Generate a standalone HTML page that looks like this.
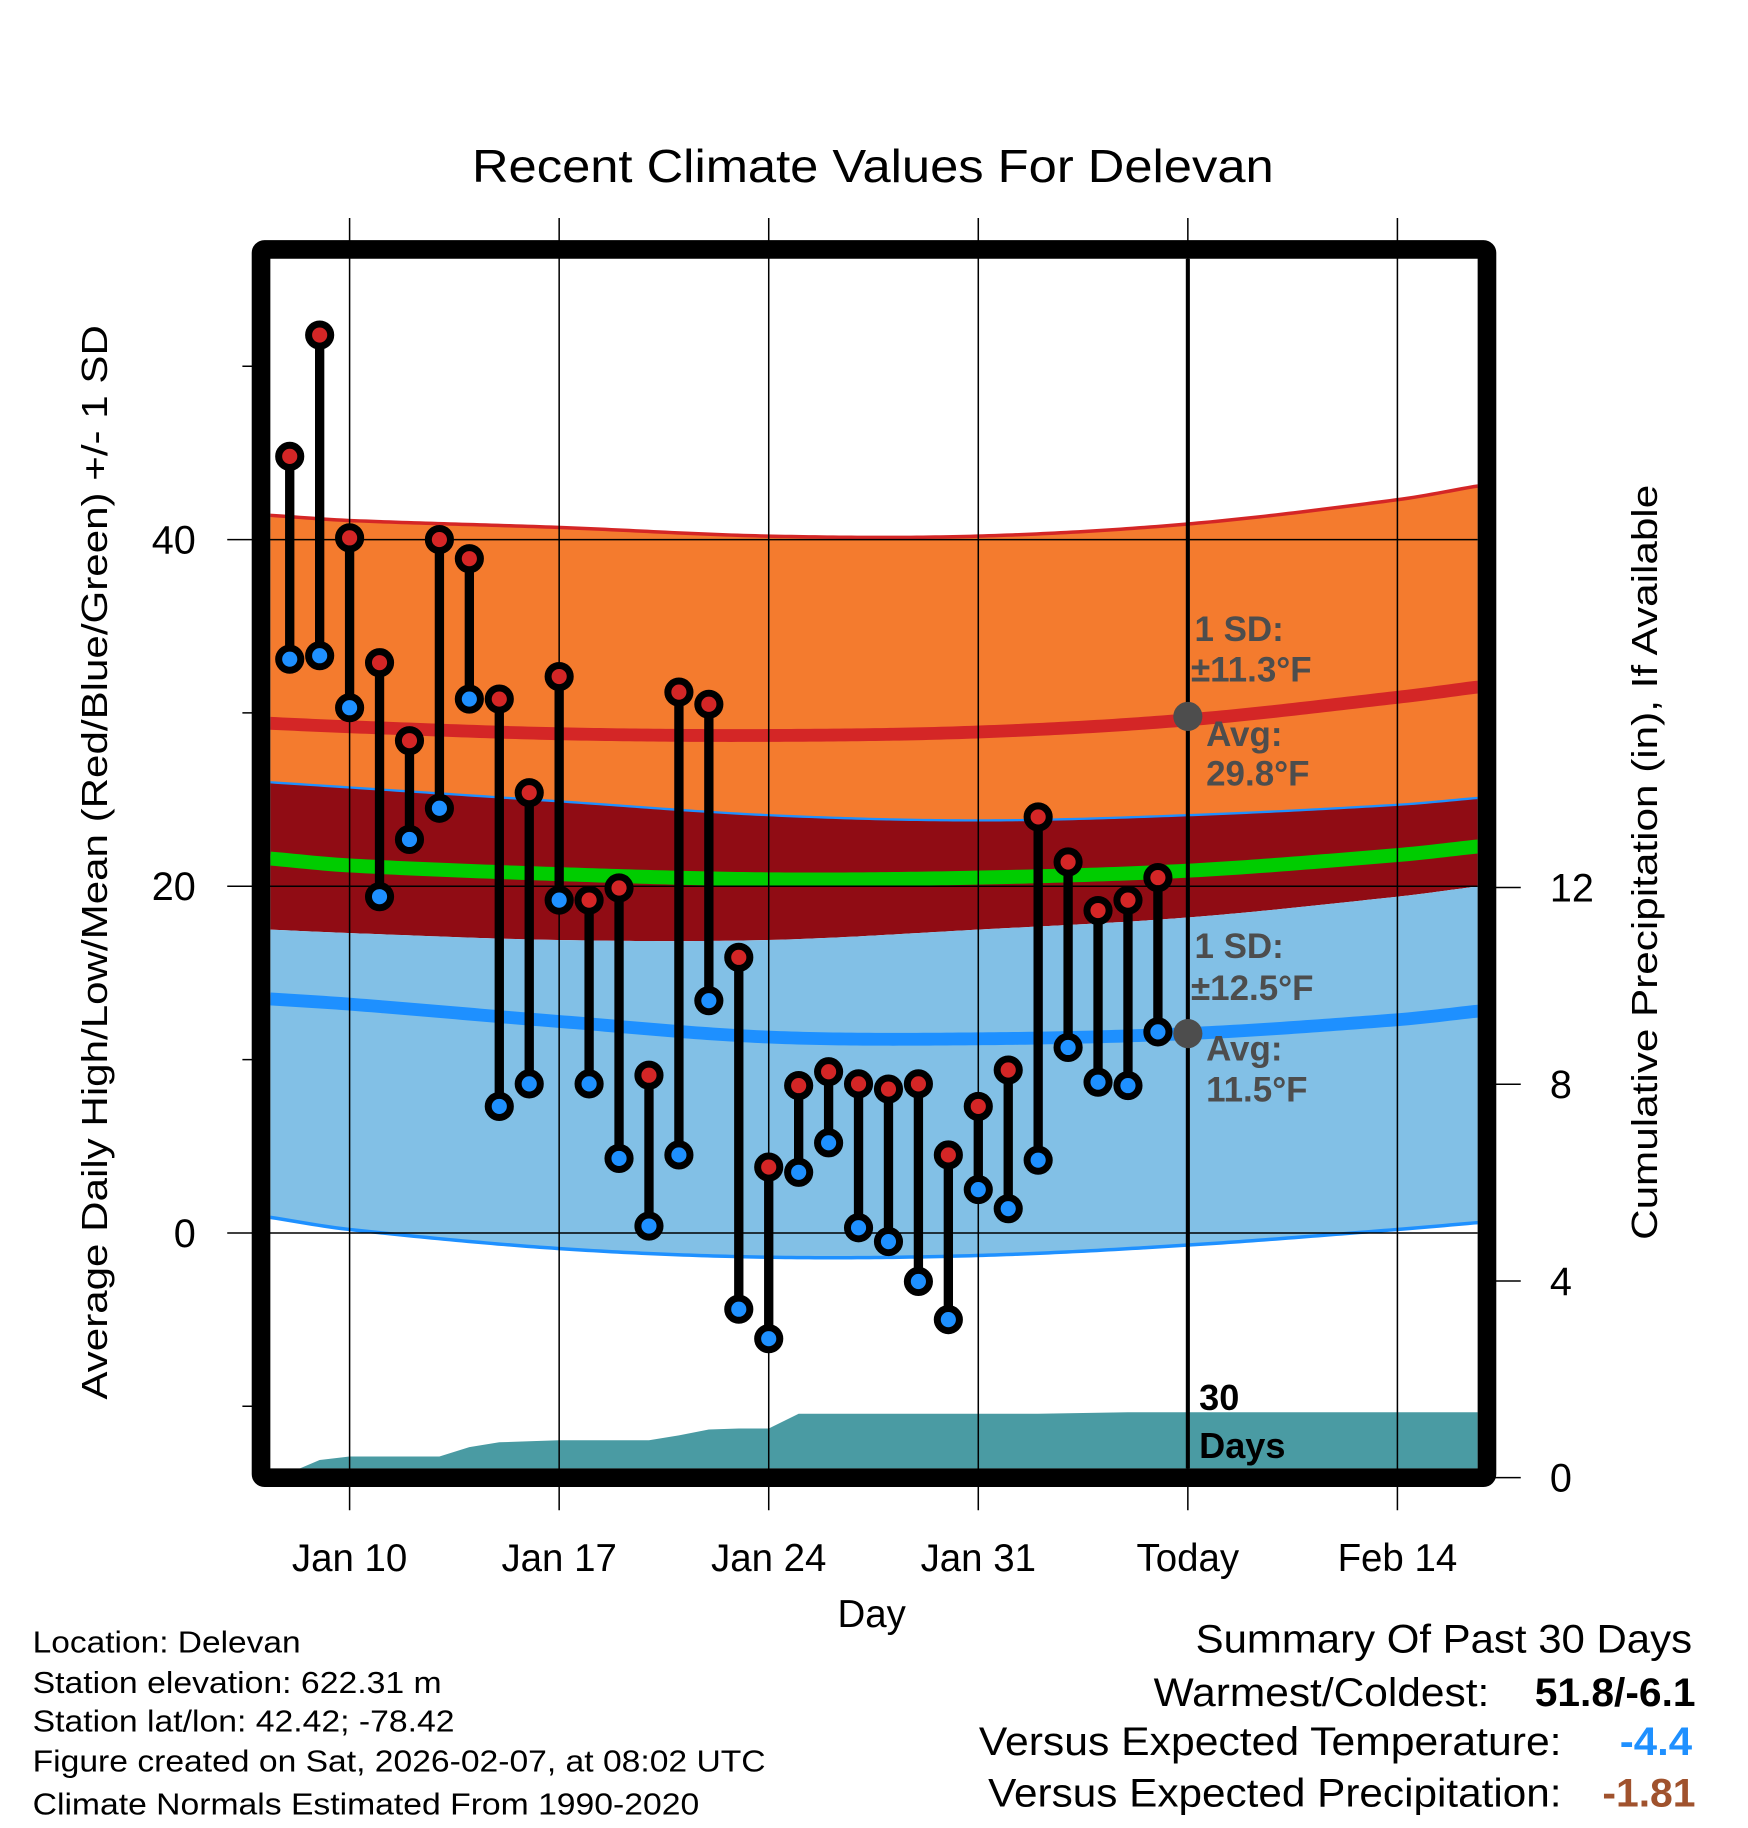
<!DOCTYPE html>
<html><head><meta charset="utf-8"><style>html,body{margin:0;padding:0;background:#fff}svg{display:block}text{font-family:"Liberation Sans",sans-serif}</style></head>
<body>
<svg id="chart" width="1748" height="1828" viewBox="0 0 1500 1568.6" xmlns="http://www.w3.org/2000/svg"></svg>
<script>
// ---- data ----
const days = [8,9,10,11,12,13,14,15,16,17,18,19,20,21,22,23,24,25,26,27,28,29,30,31,32,33,34,35,36,37];
const highs = [44.8,51.8,40.1,32.9,28.4,40.0,38.9,30.8,25.4,32.1,19.2,19.9,9.1,31.2,30.5,15.9,3.8,8.5,9.3,8.6,8.3,8.6,4.5,7.3,9.4,24.0,21.4,18.6,19.2,20.5];
const lows = [33.1,33.3,30.3,19.4,22.7,24.5,30.8,7.3,8.6,19.2,8.6,4.3,0.4,4.5,13.4,-4.4,-6.1,3.5,5.2,0.3,-0.5,-2.8,-5.0,2.5,1.4,4.2,10.7,8.7,8.5,11.6];
const precip = [0.1,0.36,0.43,0.43,0.43,0.43,0.62,0.72,0.74,0.76,0.76,0.76,0.76,0.86,0.98,1.0,1.0,1.3,1.3,1.3,1.3,1.3,1.3,1.3,1.3,1.3,1.31,1.32,1.33,1.33];
const normDays = [7.35,10,17,24,31,38,45,47.7];
const highTop = [41.4,41.1,40.7,40.2,40.2,40.9,42.3,43.1];
const highMean = [29.4,29.2,28.8,28.7,28.9,29.6,30.9,31.5];
const highBot = [26.0,25.7,24.9,24.1,23.8,24.1,24.7,25.1];
const meanLine = [21.6,21.2,20.7,20.4,20.5,20.9,21.8,22.3];
const lowTop = [17.5,17.3,16.9,16.9,17.5,18.2,19.4,20.0];
const lowMean = [13.5,13.2,12.2,11.3,11.2,11.5,12.3,12.8];
const lowBot = [0.9,0.2,-0.9,-1.4,-1.3,-0.7,0.2,0.6];
const xTickDays = [10,17,24,31,38,45];
const xTickLabels = ["Jan 10","Jan 17","Jan 24","Jan 31","Today","Feb 14"];
const yTicks = [0,20,40];
const yMinor = [-10,10,30,50];
const pTicks = [0,4,8,12];

// ---- scales ----
const X = d => 300 + (d - 10) * 25.69;
const Y = t => 1058 - t * 14.875;
const P = p => 1268 - p * 42.2;
const L = 232, R = 1268, T = 222, B = 1260;
const NS = "http://www.w3.org/2000/svg";
const svg = document.getElementById('chart');
function mk(tag, attrs, parent) {
  const e = document.createElementNS(NS, tag);
  for (const k in attrs) e.setAttribute(k, attrs[k]);
  (parent || svg).appendChild(e);
  return e;
}
function txt(s, attrs, parent) { const e = mk('text', attrs, parent); e.textContent = s; return e; }
// smooth (Catmull-Rom) interpolation of normals
function interp(arr, d) {
  const n = normDays.length;
  for (let i = 0; i < n - 1; i++) {
    if (d <= normDays[i + 1] || i === n - 2) {
      const x0 = normDays[i], x1 = normDays[i + 1];
      const f = Math.max(0, Math.min(1, (d - x0) / (x1 - x0)));
      const p0 = arr[i], p1 = arr[i + 1];
      const m0 = i > 0 ? (arr[i + 1] - arr[i - 1]) / (normDays[i + 1] - normDays[i - 1]) * (x1 - x0) : (p1 - p0);
      const m1 = i < n - 2 ? (arr[i + 2] - arr[i]) / (normDays[i + 2] - normDays[i]) * (x1 - x0) : (p1 - p0);
      const f2 = f * f, f3 = f2 * f;
      return (2 * f3 - 3 * f2 + 1) * p0 + (f3 - 2 * f2 + f) * m0 + (-2 * f3 + 3 * f2) * p1 + (f3 - f2) * m1;
    }
  }
  return arr[n - 1];
}
function curve(arr) { const pts = []; for (let d = normDays[0]; d <= 47.76; d += 0.2) pts.push([X(d), Y(interp(arr, d))]); return pts; }

const clip = mk('clipPath', { id: 'pc' }, mk('defs', {}));
mk('rect', { x: L, y: T, width: R - L, height: B - T }, clip);
const g = mk('g', { 'clip-path': 'url(#pc)' });



function bandG(topA, botA, fill, name) { const t = curve(topA), b = curve(botA).reverse(); const p = mk('polygon', { points: t.concat(b).map(q => q.join(',')).join(' '), fill: fill }, g);   }
function lineG(arr, color, w, name) { const p = mk('polyline', { points: curve(arr).map(q => q.join(',')).join(' '), fill: 'none', stroke: color, 'stroke-width': w }, g);   }

bandG(highTop, highBot, '#F47B2E', 'high-sd-band');
bandG(highBot, lowTop, '#900C14', 'overlap-band');
bandG(lowTop, lowBot, '#82C0E6', 'low-sd-band');
lineG(highTop, '#D42626', 3, 'high-sd-upper-line');
lineG(highBot, '#1E90FF', 2, 'high-sd-lower-line');
lineG(lowBot, '#1E90FF', 3, 'low-sd-lower-line');
lineG(highMean, '#D42626', 11, 'high-mean-line');
lineG(meanLine, '#00CC00', 12, 'mean-line');
lineG(lowMean, '#1E90FF', 11, 'low-mean-line');

// precip area
{
  const pts = days.map((d, i) => [X(d), P(precip[i])]);
  pts.push([R + 5, P(precip[precip.length - 1])]);
  const poly = pts.concat([[R + 5, 1280], [X(days[0]), 1280]]);
  const pa = mk('polygon', { points: poly.map(q => q.join(',')).join(' '), fill: '#4A9BA3' }, g);
  
  
}

// grid
xTickDays.forEach(d => { const l = mk('line', { x1: X(d), x2: X(d), y1: 187, y2: 1296, stroke: '#000', 'stroke-width': 1.3 });   });
yTicks.forEach(t => { const l = mk('line', { x1: 195, x2: R, y1: Y(t), y2: Y(t), stroke: '#000', 'stroke-width': 1.3 });   });
yMinor.forEach(t => { const l = mk('line', { x1: 208, x2: 224, y1: Y(t), y2: Y(t), stroke: '#000', 'stroke-width': 1.3 });   });
pTicks.forEach(p => { const l = mk('line', { x1: 1276, x2: 1305, y1: P(p), y2: P(p), stroke: '#000', 'stroke-width': 1.3 });   });

// today line
{ const l = mk('line', { x1: X(38), x2: X(38), y1: T, y2: B, stroke: '#000', 'stroke-width': 3.5 });   }

// stems & points
days.forEach((d, i) => {
  const s = mk('line', { x1: X(d), x2: X(d), y1: Y(highs[i]), y2: Y(lows[i]), stroke: '#000', 'stroke-width': 8 });
  
  
});
days.forEach((d, i) => {
  const h = mk('circle', { cx: X(d), cy: Y(highs[i]), r: 9.5, fill: '#D42626', stroke: '#000', 'stroke-width': 6 });
  
  
  const lo = mk('circle', { cx: X(d), cy: Y(lows[i]), r: 9.5, fill: '#1E90FF', stroke: '#000', 'stroke-width': 6 });
  
  
});

// frame
{ const f = mk('rect', { x: 224, y: 214, width: 1052, height: 1054, fill: 'none', stroke: '#000', 'stroke-width': 16, rx: 3 });   }

// annotations
const ann = [
  ['1 SD:', 1025, 550], ['±11.3°F', 1022, 585], ['Avg:', 1035, 640], ['29.8°F', 1035, 674],
  ['1 SD:', 1025, 822], ['±12.5°F', 1022, 858], ['Avg:', 1035, 910], ['11.5°F', 1035, 945]
];
ann.forEach(a => { const t = txt(a[0], { x: a[1], y: a[2], 'font-size': 30, 'font-weight': 'bold', fill: '#4d4d4d' });   });
[[X(38), Y(29.8)], [X(38), Y(11.5)]].forEach(c => { const e = mk('circle', { cx: c[0], cy: c[1], r: 12.5, fill: '#4d4d4d' });   });
{ const t = txt('30', { x: 1029, y: 1210, 'font-size': 31, 'font-weight': 'bold' });   }
{ const t = txt('Days', { x: 1029, y: 1251, 'font-size': 31, 'font-weight': 'bold' });   }

// tick labels
xTickDays.forEach((d, i) => { const t = txt(xTickLabels[i], { x: X(d), y: 1348, 'font-size': 33, 'text-anchor': 'middle' });   });
yTicks.forEach(v => { const t = txt(String(v), { x: 168, y: Y(v) + 12, 'font-size': 34, 'text-anchor': 'end' });   });
pTicks.forEach(v => { const t = txt(String(v), { x: 1330, y: P(v) + 12, 'font-size': 34 });   });

// titles
{ const t = txt('Recent Climate Values For Delevan', { x: 749, y: 156, 'font-size': 40, 'text-anchor': 'middle', textLength: 688, lengthAdjust: 'spacingAndGlyphs' });   }
{ const t = txt('Day', { x: 748, y: 1396, 'font-size': 33, 'text-anchor': 'middle' });   }
{ const t = txt('Average Daily High/Low/Mean (Red/Blue/Green) +/- 1 SD', { x: 0, y: 0, 'font-size': 31, 'text-anchor': 'middle', textLength: 922, lengthAdjust: 'spacingAndGlyphs', transform: 'translate(92,740) rotate(-90)' });   }
{ const t = txt('Cumulative Precipitation (in), If Available', { x: 0, y: 0, 'font-size': 31, 'text-anchor': 'middle', textLength: 648, lengthAdjust: 'spacingAndGlyphs', transform: 'translate(1422,740) rotate(-90)' });   }

// footer left
const info = [['Location: Delevan', 1418, 230], ['Station elevation: 622.31 m', 1453, 351], ['Station lat/lon: 42.42; -78.42', 1486, 362], ['Figure created on Sat, 2026-02-07, at 08:02 UTC', 1520, 629], ['Climate Normals Estimated From 1990-2020', 1557, 572]];
info.forEach(a => { const t = txt(a[0], { x: 28, y: a[1], 'font-size': 26, textLength: a[2], lengthAdjust: 'spacingAndGlyphs' });   });

// summary
const sum = [['Summary Of Past 30 Days', 1452, 1418, 426, '#000', 'normal'], ['Warmest/Coldest:', 1278, 1464, 288, '#000', 'normal'], ['51.8/-6.1', 1455, 1464, 138, '#000', 'bold'], ['Versus Expected Temperature:', 1340, 1506, 500, '#000', 'normal'], ['-4.4', 1452, 1506, 62, '#1E90FF', 'bold'], ['Versus Expected Precipitation:', 1340, 1550, 492, '#000', 'normal'], ['-1.81', 1455, 1550, 80, '#A0522D', 'bold']];
sum.forEach(a => { const t = txt(a[0], { x: a[1], y: a[2], 'font-size': 34, 'text-anchor': 'end', fill: a[4], 'font-weight': a[5], textLength: a[3], lengthAdjust: 'spacingAndGlyphs' });   });
</script>
</body></html>
